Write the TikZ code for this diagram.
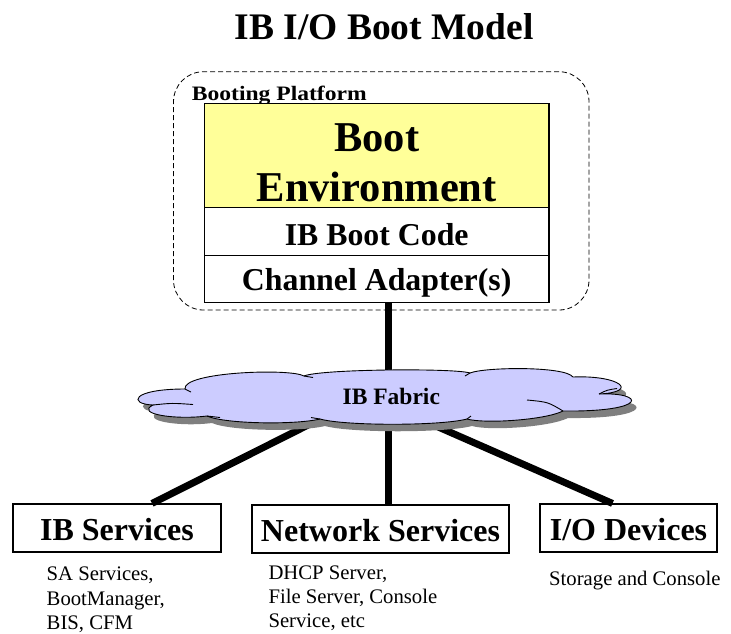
\documentclass[tikz,border=0pt]{standalone}
\usepackage{fontspec}
\setmainfont{Liberation Serif}
\newfontfamily\widefont{Liberation Serif}[FakeStretch=1.15]
\usetikzlibrary{calc}
\definecolor{bootyellow}{HTML}{FFFF99}
\definecolor{fabricblue}{HTML}{CCCCFF}
\definecolor{shadowgray}{HTML}{7F7F7F}
\newcommand{\fsz}[2]{\fontsize{#1}{#2}\selectfont}
\begin{document}
\begin{tikzpicture}[x=1pt,y=-1pt,
  layerbox/.style={draw=black,line width=1.3pt,minimum width=344.7pt,inner sep=0pt,font=\bfseries\fsz{31.8}{36},text depth=0pt},
  servicebox/.style={draw=black,line width=1.1pt,minimum height=48pt,inner sep=0pt,font=\bfseries\fsz{32}{38},text height=24pt,text depth=0pt},
  link/.style={line width=7pt},
  notetext/.style={anchor=north west,align=left,inner sep=0pt,font=\fsz{20.7}{24.3}},
  plaintext/.style={inner sep=0pt},
  outline/.style={draw=black,line width=0.9pt}]
\useasboundingbox (0,0) rectangle (731,633);

% title
\node[plaintext,anchor=base,font=\bfseries\fsz{37.5}{44}] (title) at (384,39.3) {IB I/O Boot Model};

% booting platform
\node[draw=black,dashed,dash pattern=on 5pt off 3pt,line width=0.8pt,rounded corners=30pt,
      minimum width=415.5pt,minimum height=238.3pt,inner sep=0pt] (platform) at (381.25,190.85) {};
\node[plaintext,anchor=base west,font=\widefont\bfseries\fsz{20.5}{24}] (platlabel) at (191.7,100) {Booting Platform};

\node[layerbox,fill=bootyellow,minimum height=104pt] (env) at (376.7,155.3) {};
\node[plaintext,anchor=base,font=\bfseries\fsz{42.5}{48}] (envA) at (376.7,151.7) {Boot};
\node[plaintext,anchor=base,font=\bfseries\fsz{42.5}{48}] (envB) at (376.7,201.7) {Environment};
\node[layerbox,minimum height=48.4pt,text height=27pt] (code) at (376.7,231.5) {IB Boot Code};
\node[layerbox,minimum height=47pt,text height=21.6pt] (adapter) at (376.7,279.2) {Channel Adapter(s)};

% service boxes
\node[servicebox,minimum width=208pt] (ibsvc) at (117,528) {IB Services};
\node[servicebox,minimum width=257pt] (netsvc) at (380.5,529) {Network Services};
\node[servicebox,minimum width=177pt] (iodev) at (628.5,528) {I/O Devices};

% fabric anchor points
\coordinate (fabtop) at (388.5,385);
\coordinate (fabbot) at (388.5,412);
\coordinate (fableft) at (330,414);
\coordinate (fabright) at (420,419);

% links
\draw[link] (adapter.south -| fabtop) -- (fabtop);
\draw[link] (fabbot) -- (netsvc.north -| fabbot);
\draw[link] (fableft) -- ($(ibsvc.north)+(35,0)$);
\draw[link] (fabright) -- ($(iodev.north)+(-16,0)$);

% cloud shadow
\begin{scope}[shift={(5,7)}]
\fill[shadowgray] (153,405) .. controls (128,404) and (131,389) .. (185,389)
  .. controls (182,372) and (290,368) .. (304,376)
  .. controls (320,369) and (455,368) .. (470,373)
  .. controls (485,367) and (565,366) .. (573,377)
  .. controls (620,375) and (640,392) .. (599,394)
  .. controls (645,392) and (650,412) .. (563,411)
  .. controls (545,420) and (485,424) .. (467,419)
  .. controls (440,426) and (345,426) .. (320,419)
  .. controls (295,425) and (225,424) .. (207,416)
  .. controls (175,420) and (135,414) .. (153,405) -- cycle;
\end{scope}
% cloud
\path[fill=fabricblue,outline] (153,405) .. controls (128,404) and (131,389) .. (185,389)
  .. controls (182,372) and (290,368) .. (304,376)
  .. controls (320,369) and (455,368) .. (470,373)
  .. controls (485,367) and (565,366) .. (573,377)
  .. controls (620,375) and (640,392) .. (599,394)
  .. controls (645,392) and (650,412) .. (563,411)
  .. controls (545,420) and (485,424) .. (467,419)
  .. controls (440,426) and (345,426) .. (320,419)
  .. controls (295,425) and (225,424) .. (207,416)
  .. controls (175,420) and (135,414) .. (153,405) -- cycle;
% puff creases
\draw[outline] (153,405) .. controls (172,403) .. (193,404.5);
\draw[outline] (185,389) .. controls (188,390) .. (191,392);
\draw[outline] (304,376) .. controls (308,376.5) .. (313,377.5);
\draw[outline] (470,373) .. controls (468,374) .. (465,376);
\draw[outline] (599,394) .. controls (607,390) .. (617,388.5);
\draw[outline] (527,400) .. controls (548,402) .. (563,411);
\draw[outline] (467,419) .. controls (469,417.5) .. (471,416);
\draw[outline] (320,419) .. controls (316,418) .. (311,417.5);
\draw[outline] (207,416) .. controls (213,417) .. (220,417.5);
\node[plaintext,anchor=base,font=\bfseries\fsz{23.5}{28}] (fabric) at (391.3,404.3) {IB Fabric};

% notes
\node[notetext] (ibnote) at (46.5,566.8) {SA Services,\\BootManager,\\BIS, CFM};
\node[notetext] (netnote) at (268.3,565.3) {DHCP Server,\\File Server, Console\\Service, etc};
\node[notetext] (ionote) at (549,571.3) {Storage and Console};
\end{tikzpicture}
\end{document}
